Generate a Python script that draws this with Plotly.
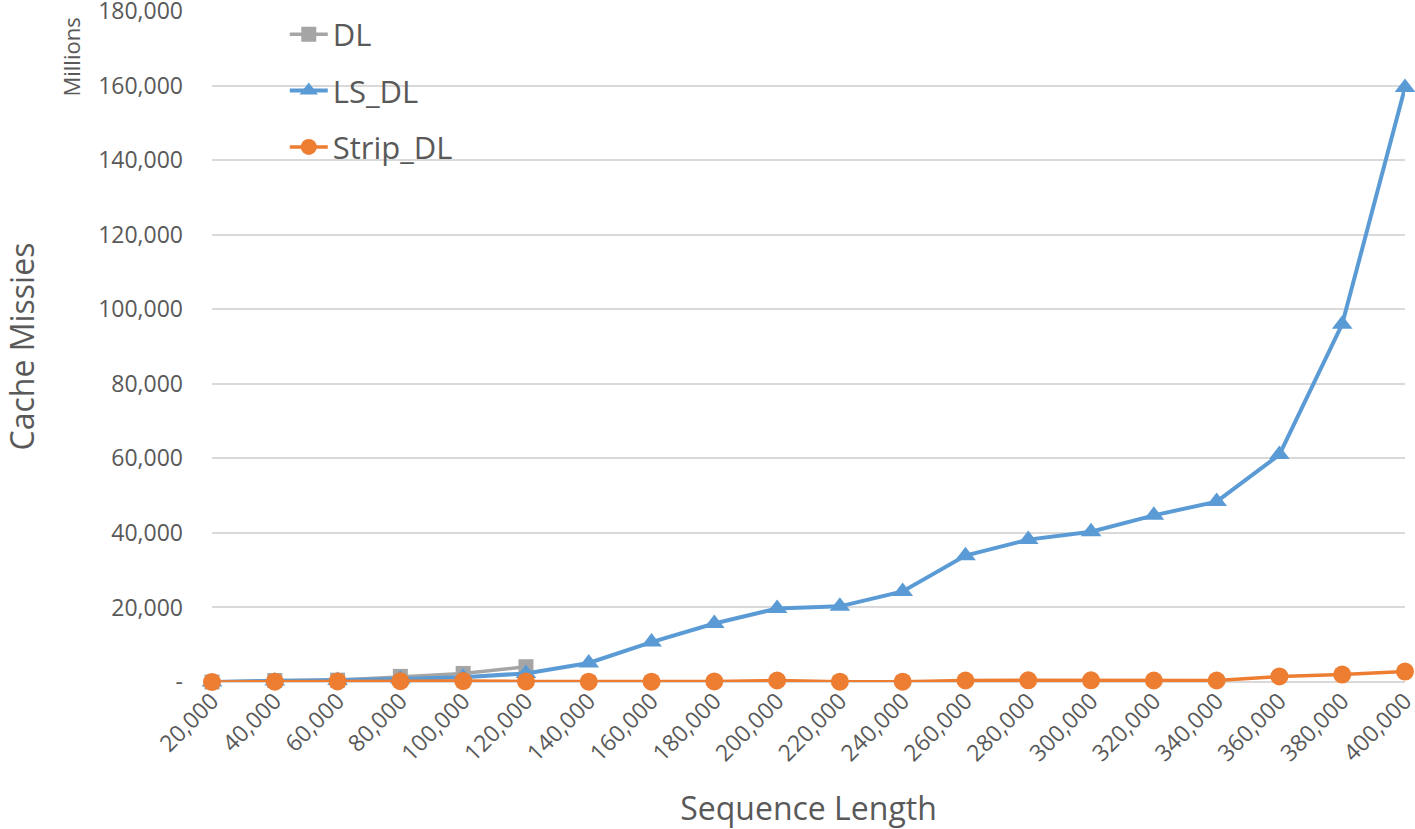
import plotly.graph_objects as go

# --- Data (cache misses, millions) ---
seq_len = ["20,000", "40,000", "60,000", "80,000", "100,000", "120,000", "140,000",
           "160,000", "180,000", "200,000", "220,000", "240,000", "260,000", "280,000",
           "300,000", "320,000", "340,000", "360,000", "380,000", "400,000"]

dl = [0, 400, 500, 1500, 2300, 4100]

ls_dl = [0, 300, 400, 800, 1300, 2300, 5100, 10700, 15700, 19700, 20300, 24300,
         33900, 38200, 40300, 44700, 48400, 61000, 96000, 159500]

strip_dl = [0, 100, 150, 200, 250, 150, 100, 100, 150, 400, 100, 100, 400, 450,
            450, 400, 400, 1500, 2000, 2800]

y_ticks = [0, 20000, 40000, 60000, 80000, 100000, 120000, 140000, 160000, 180000]
y_labels = ["-", "20,000", "40,000", "60,000", "80,000", "100,000", "120,000",
            "140,000", "160,000", "180,000"]

GRAY = "#A5A5A5"
BLUE = "#5B9BD5"
ORANGE = "#ED7D31"
TEXT = "#595959"

fig = go.Figure()

fig.add_trace(go.Scatter(
    x=seq_len[:len(dl)], y=dl, name="DL", legendgroup="a",
    mode="lines+markers", cliponaxis=False,
    line=dict(color=GRAY, width=3.5),
    marker=dict(symbol="square", size=15, color=GRAY),
))

fig.add_trace(go.Scatter(
    x=seq_len, y=ls_dl, name="LS_DL", legendgroup="b",
    mode="lines+markers", cliponaxis=False,
    line=dict(color=BLUE, width=4),
    marker=dict(symbol="triangle-up", size=18, color=BLUE),
))

fig.add_trace(go.Scatter(
    x=seq_len, y=strip_dl, name="Strip_DL", legendgroup="c",
    mode="lines+markers", cliponaxis=False,
    line=dict(color=ORANGE, width=3.5),
    marker=dict(symbol="circle", size=18, color=ORANGE),
))

fig.update_layout(
    width=1415, height=829,
    margin=dict(l=212, r=10, t=8, b=147),
    plot_bgcolor="white", paper_bgcolor="white",
    font=dict(family="Open Sans", color=TEXT),
    showlegend=True,
    legend=dict(
        x=0.061, y=1.005, xanchor="left", yanchor="top",
        font=dict(size=31, color=TEXT),
        bgcolor="rgba(0,0,0,0)",
        tracegroupgap=13,
        itemwidth=38,
    ),
    xaxis=dict(
        type="category",
        range=[0, len(seq_len) - 1],
        tickangle=-45,
        tickfont=dict(size=23, color=TEXT),
        showgrid=False, zeroline=False,
        showline=False, automargin=False,
        title=dict(text="Sequence Length", font=dict(size=32, color=TEXT), standoff=34),
    ),
    yaxis=dict(
        range=[0, 180000],
        tickvals=y_ticks, ticktext=y_labels,
        tickfont=dict(size=23, color=TEXT),
        ticklabeloverflow="allow",
        showgrid=True, gridcolor="#D9D9D9", gridwidth=1.5,
        zeroline=True, zerolinecolor="#D9D9D9", zerolinewidth=1.5,
        ticklabelstandoff=28, automargin=False,
        title=dict(text="Cache Missies", font=dict(size=32, color=TEXT), standoff=64),
    ),
    annotations=[dict(
        text="Millions", xref="paper", yref="paper",
        x=-0.118, y=0.931, xanchor="center", yanchor="middle",
        textangle=-90, showarrow=False,
        font=dict(size=22, color=TEXT),
    )],
)

# drop the browser's default 8px body margin so the figure fills the window
fig.write_html("out.html", config={"displayModeBar": False},
               post_script="document.body.style.margin='0';")
